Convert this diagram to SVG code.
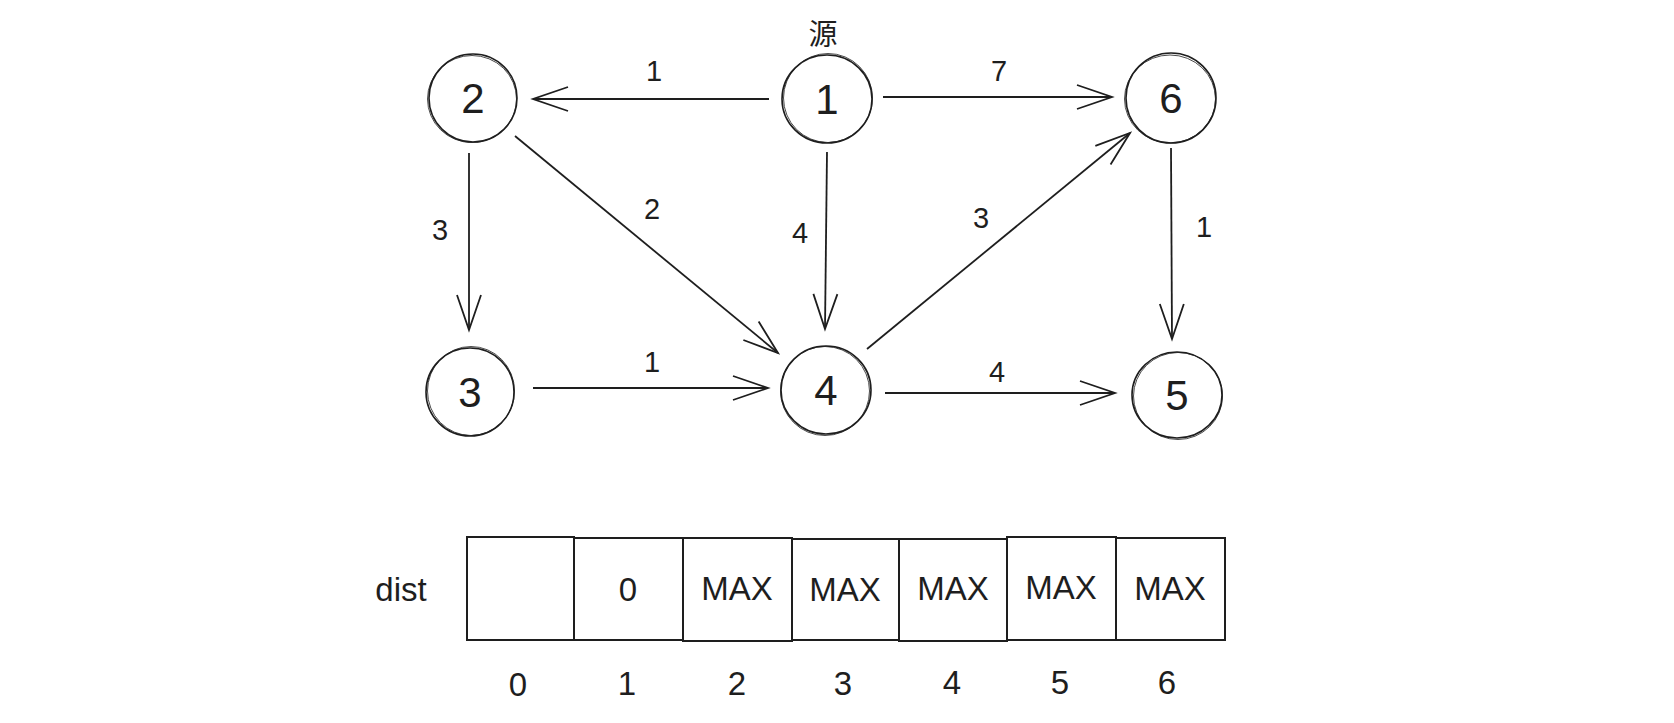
<svg xmlns="http://www.w3.org/2000/svg" width="1674" height="723" viewBox="0 0 1674 723">
<style>
.nd{fill:none;stroke:#1e1e1e;stroke-width:1.6}
.nd2{fill:none;stroke:#1e1e1e;stroke-width:1;opacity:.8}
.nl{font-family:"Liberation Sans",Arial,sans-serif;font-size:42px;fill:#1e1e1e;text-anchor:middle}
.el{font-family:"Liberation Sans",Arial,sans-serif;font-size:29px;fill:#1e1e1e;text-anchor:middle}
.tl{font-family:"Liberation Sans",Arial,sans-serif;font-size:33px;fill:#1e1e1e;text-anchor:middle}
.cn{font-family:"Noto Sans CJK SC","Liberation Sans",sans-serif;font-size:29px;fill:#1e1e1e;text-anchor:middle}
.ed{fill:none;stroke:#1e1e1e;stroke-width:1.8;marker-end:url(#ah)}
.bx{fill:none;stroke:#1e1e1e;stroke-width:2}
</style>
<defs>
<marker id="ah" markerUnits="userSpaceOnUse" markerWidth="50" markerHeight="40" viewBox="-40 -20 50 40" refX="0" refY="0" orient="auto" overflow="visible">
<path d="M -35 -12 L 0 0 L -35 12" fill="none" stroke="#1e1e1e" stroke-width="1.8"/>
</marker>
</defs>
<rect width="1674" height="723" fill="#ffffff"/>
<text class="cn" x="823" y="45">源</text>
<g id="connectors">
<path class="ed" d="M 769 99 L 533 99"/>
<path class="ed" d="M 883 97 L 1112 97"/>
<path class="ed" d="M 469 153 L 469 330"/>
<path class="ed" d="M 515 136 L 778 353"/>
<path class="ed" d="M 827 152 L 825 329"/>
<path class="ed" d="M 867 349 L 1130 133"/>
<path class="ed" d="M 1171 148 L 1172 339"/>
<path class="ed" d="M 533 388 L 768 388"/>
<path class="ed" d="M 885 393 L 1115 393"/>
<text class="el" x="654" y="81">1</text>
<text class="el" x="999" y="81">7</text>
<text class="el" x="440" y="240">3</text>
<text class="el" x="652" y="219">2</text>
<text class="el" x="800" y="243">4</text>
<text class="el" x="981" y="228">3</text>
<text class="el" x="1204" y="237">1</text>
<text class="el" x="652" y="372">1</text>
<text class="el" x="997" y="382">4</text>
</g>
<g id="node1"><ellipse class="nd" cx="827" cy="99" rx="45" ry="44"/><ellipse class="nd2" cx="828" cy="98" rx="44.5" ry="44.5"/><text class="nl" x="827" y="114">1</text></g>
<g id="node2"><ellipse class="nd" cx="473" cy="98" rx="44" ry="44"/><ellipse class="nd2" cx="472" cy="99" rx="44.5" ry="43.5"/><text class="nl" x="473" y="113">2</text></g>
<g id="node3"><ellipse class="nd" cx="470" cy="392" rx="44" ry="44"/><ellipse class="nd2" cx="471" cy="391" rx="43.5" ry="44.5"/><text class="nl" x="470" y="407">3</text></g>
<g id="node4"><ellipse class="nd" cx="826" cy="390" rx="45" ry="44"/><ellipse class="nd2" cx="825" cy="391" rx="44.5" ry="44.5"/><text class="nl" x="826" y="405">4</text></g>
<g id="node5"><ellipse class="nd" cx="1177" cy="395" rx="45" ry="43"/><ellipse class="nd2" cx="1178" cy="396" rx="44.5" ry="43.5"/><text class="nl" x="1177" y="410">5</text></g>
<g id="node6"><ellipse class="nd" cx="1171" cy="98" rx="45" ry="45"/><ellipse class="nd2" cx="1170" cy="99" rx="45.5" ry="44"/><text class="nl" x="1171" y="113">6</text></g>
<g id="dist-array">
<text class="tl" x="401" y="601">dist</text>
<rect class="bx" x="467" y="537" width="107" height="103"/>
<rect class="bx" x="574" y="538" width="109" height="102"/>
<rect class="bx" x="683" y="538" width="109" height="103"/>
<rect class="bx" x="792" y="539" width="107" height="101"/>
<rect class="bx" x="899" y="539" width="108" height="102"/>
<rect class="bx" x="1007" y="537" width="109" height="103"/>
<rect class="bx" x="1116" y="538" width="109" height="102"/>
<text class="tl" x="628" y="601">0</text>
<text class="tl" x="737" y="600">MAX</text>
<text class="tl" x="845" y="601">MAX</text>
<text class="tl" x="953" y="600">MAX</text>
<text class="tl" x="1061" y="599">MAX</text>
<text class="tl" x="1170" y="600">MAX</text>
<text class="tl" x="518" y="696">0</text>
<text class="tl" x="627" y="695">1</text>
<text class="tl" x="737" y="695">2</text>
<text class="tl" x="843" y="695">3</text>
<text class="tl" x="952" y="694">4</text>
<text class="tl" x="1060" y="694">5</text>
<text class="tl" x="1167" y="694">6</text>
</g>
</svg>
